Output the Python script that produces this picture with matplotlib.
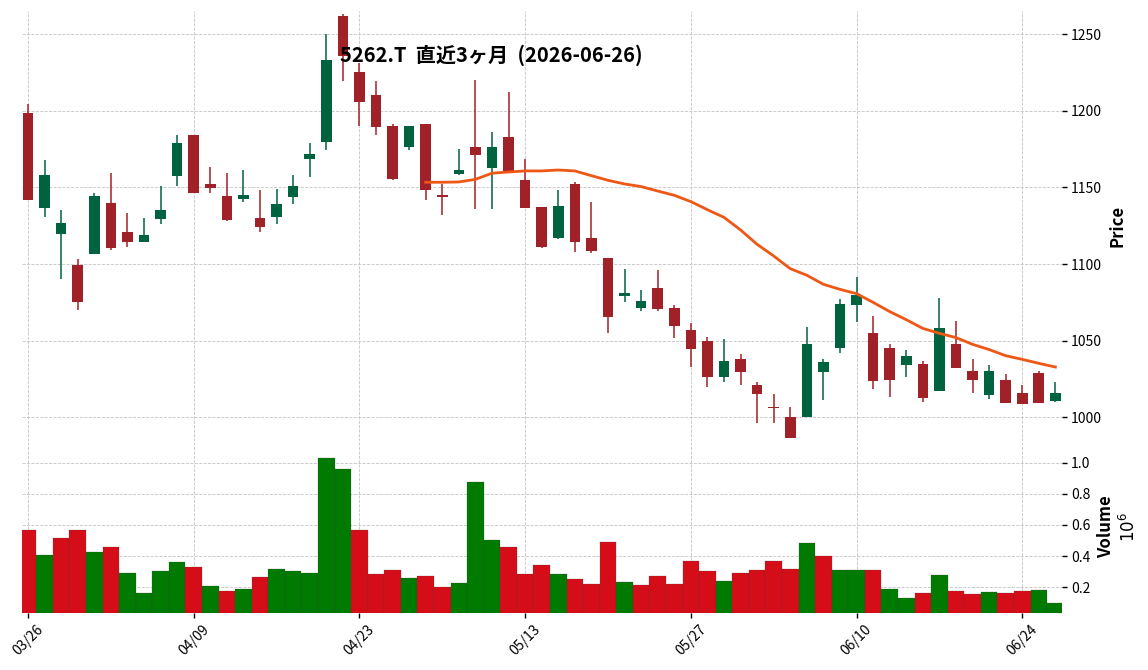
import numpy as np
import pandas as pd
import matplotlib.pyplot as plt

plt.rcParams['font.family'] = ['Noto Sans CJK JP', 'DejaVu Sans']

# 営業日 (祝日: 4/29, GW)
dates = pd.bdate_range('2026-03-26', '2026-06-26', freq='C',
                       holidays=['2026-04-29', '2026-05-04', '2026-05-05', '2026-05-06'])

opens = [1198.6, 1136.8, 1119.9, 1099.4, 1106.8, 1139.9, 1121.0, 1114.7, 1129.7, 1157.7,
         1184.3, 1152.3, 1144.5, 1142.7, 1130.1, 1131.0, 1144.0, 1168.8, 1179.9, 1262.0,
         1225.4, 1210.4, 1190.2, 1176.7, 1191.5, 1145.1, 1159.0, 1176.5, 1163.0, 1183.0,
         1154.9, 1137.3, 1117.0, 1152.3, 1116.8, 1104.0, 1079.4, 1071.6, 1084.4, 1071.4,
         1057.0, 1049.8, 1026.5, 1038.1, 1021.1, 1007.0, 1000.2, 1000.0, 1029.8, 1045.5,
         1073.5, 1055.0, 1045.2, 1034.4, 1034.8, 1017.4, 1047.8, 1030.2, 1014.8, 1024.3,
         1015.9, 1028.9, 1010.9]
highs = [1204.3, 1167.7, 1135.1, 1103.1, 1146.6, 1159.3, 1133.4, 1129.9, 1150.8, 1184.1,
         1184.3, 1163.2, 1159.3, 1161.2, 1148.2, 1148.8, 1158.0, 1178.8, 1250.0, 1263.1,
         1231.0, 1219.3, 1191.2, 1190.2, 1191.5, 1152.1, 1174.9, 1220.0, 1186.0, 1212.4,
         1168.8, 1137.3, 1148.2, 1153.8, 1140.8, 1104.0, 1096.8, 1082.9, 1095.9, 1073.1,
         1061.8, 1052.6, 1050.9, 1041.1, 1022.8, 1015.0, 1006.5, 1058.7, 1038.1, 1077.0,
         1091.8, 1066.1, 1047.6, 1043.7, 1036.8, 1077.9, 1062.6, 1037.8, 1033.9, 1028.0,
         1020.9, 1030.2, 1022.8]
lows = [1141.9, 1130.5, 1090.1, 1069.8, 1106.8, 1109.0, 1111.0, 1114.7, 1126.0, 1150.8,
        1146.4, 1146.2, 1127.9, 1140.8, 1120.7, 1126.0, 1139.0, 1156.6, 1174.3, 1219.5,
        1190.2, 1184.1, 1154.7, 1174.3, 1141.6, 1131.8, 1158.0, 1135.8, 1135.8, 1159.3,
        1136.8, 1110.7, 1116.6, 1107.7, 1107.0, 1054.8, 1075.0, 1069.2, 1069.2, 1051.5,
        1032.6, 1019.6, 1022.8, 1020.9, 996.1, 996.1, 986.7, 1000.0, 1011.3, 1041.8,
        1062.0, 1018.7, 1013.5, 1026.5, 1009.8, 1017.4, 1032.4, 1015.6, 1011.7, 1009.6,
        1008.9, 1009.6, 1009.8]
closes = [1141.9, 1158.2, 1126.8, 1075.5, 1144.5, 1110.5, 1114.7, 1119.0, 1135.3, 1179.1,
          1146.4, 1149.9, 1128.8, 1145.1, 1124.4, 1139.2, 1151.0, 1171.9, 1233.2, 1236.1,
          1206.0, 1189.7, 1155.6, 1190.2, 1148.6, 1144.0, 1161.2, 1171.4, 1176.5, 1159.3,
          1136.8, 1111.2, 1138.0, 1114.7, 1108.8, 1065.7, 1080.9, 1075.9, 1070.9, 1059.8,
          1044.8, 1026.5, 1036.8, 1029.8, 1015.4, 1005.9, 986.7, 1048.1, 1036.1, 1074.0,
          1079.8, 1023.9, 1024.6, 1040.0, 1012.8, 1058.3, 1032.4, 1024.6, 1030.2, 1009.6,
          1008.9, 1009.6, 1015.9]
volumes = [568000, 408000, 517000, 568000, 427000, 459000, 292000, 164000, 305000, 363000,
           331000, 209000, 177000, 189000, 266000, 318000, 305000, 292000, 1030000, 959000,
           568000, 286000, 311000, 260000, 273000, 202000, 228000, 876000, 504000, 459000,
           286000, 343000, 286000, 254000, 221000, 491000, 234000, 215000, 273000, 221000,
           369000, 305000, 241000, 292000, 311000, 369000, 318000, 485000, 401000, 311000,
           311000, 311000, 189000, 132000, 164000, 279000, 177000, 157000, 170000, 164000,
           177000, 183000, 100000]
# 25日移動平均 (25本目から)
ma25 = [1153.4, 1153.4, 1153.6, 1155.3, 1159.3, 1160.1, 1160.8, 1160.8, 1161.4, 1160.8,
        1157.7, 1154.7, 1152.3, 1150.6, 1147.7, 1144.9, 1140.8, 1135.5, 1130.5, 1122.3,
        1112.9, 1105.3, 1097.0, 1092.7, 1086.8, 1083.5, 1080.7, 1075.0, 1069.0, 1063.7,
        1058.0, 1054.8, 1052.0, 1047.6, 1044.2, 1040.2, 1037.8, 1035.2, 1032.8]

o = np.array(opens)
h = np.array(highs)
l = np.array(lows)
c = np.array(closes)
x = np.arange(len(dates))

up_c, dn_c = '#006340', '#A02128'
vup_c, vdn_c = '#007a00', '#d50d18'
candle_col = np.where(c >= o, up_c, dn_c)
vol_up = np.concatenate([[False], c[1:] >= c[:-1]])
vol_col = np.where(vol_up, vup_c, vdn_c)

fig = plt.figure(figsize=(11.48, 6.7), dpi=100)
ax1 = fig.add_axes([22/1148, 1-441/670, 1040/1148, 430/670])
ax2 = fig.add_axes([22/1148, 1-613/670, 1040/1148, 172/670], sharex=ax1)

# ローソク足
ax1.vlines(x, l, h, colors=candle_col, linewidth=1.1, zorder=2)
ax1.bar(x, np.abs(c - o), bottom=np.minimum(o, c), width=0.64,
        color=candle_col, linewidth=0, zorder=3)
ax1.plot(x[len(x)-len(ma25):], ma25, color='#ef5714', linewidth=2, zorder=4)

# 出来高
ax2.bar(x, np.array(volumes) / 1e6, width=1.0, color=vol_col,
        edgecolor='#404040', linewidth=0.15, zorder=2)

ax1.set_xlim(-0.36, 62.4)
ax1.set_ylim(984.5, 1265.2)
ax2.set_ylim(0.0353, 1.139)

ax1.set_yticks([1000, 1050, 1100, 1150, 1200, 1250])
ax2.set_yticks([0.2, 0.4, 0.6, 0.8, 1.0])
ticks = x[::10]
ax2.set_xticks(ticks)
ax2.set_xticklabels([dates[i].strftime('%m/%d') for i in ticks], rotation=45, ha='center')

for ax in (ax1, ax2):
    for s in ax.spines.values():
        s.set_visible(False)
    ax.yaxis.tick_right()
    ax.yaxis.set_label_position('right')
    ax.grid(True, linestyle='--', color='#c4c4c4', linewidth=0.6, zorder=0)
    ax.set_axisbelow(True)
    ax.tick_params(labelsize=10, length=3.5, width=1, pad=3)
ax1.tick_params(axis='x', labelbottom=False, length=0)

ax1.set_ylabel('Price', fontsize=12, fontweight='bold', labelpad=5)
ax2.set_ylabel('Volume\n$10^{6}$', fontsize=12, fontweight='bold', labelpad=5)

fig.text(491/1148, 1-55/670, '5262.T  直近3ヶ月  (2026-06-26)',
         ha='center', va='center', fontsize=14.5, fontweight='bold')

fig.savefig('out.png', dpi=100)
